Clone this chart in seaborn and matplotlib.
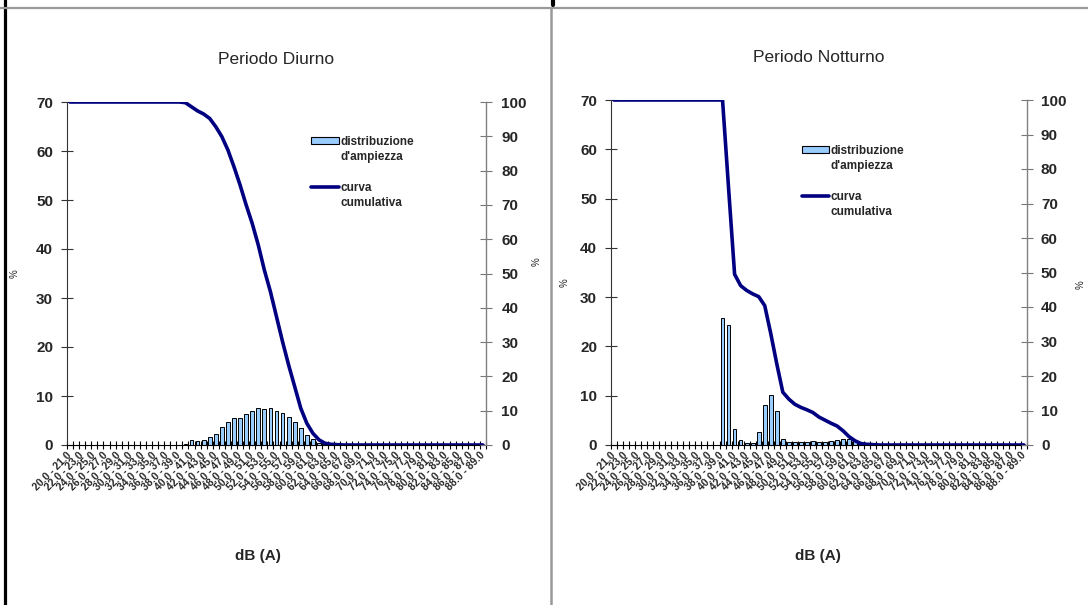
import numpy as np
import pandas as pd
import matplotlib
matplotlib.use("Agg")
import matplotlib.pyplot as plt
import seaborn as sns
from matplotlib.patches import Patch
from matplotlib.lines import Line2D

# 1 dB(A) classes, 20.0 - 21.0 up to 88.0 - 89.0
class_lower = np.arange(20, 89)
classes = [f"{a:.1f} - {a + 1:.1f}" for a in class_lower]

# Day period: amplitude distribution (%) and cumulative curve (%)
diurno_distr = [
    0, 0, 0, 0, 0, 0, 0, 0, 0, 0, 0, 0, 0, 0, 0, 0, 0, 0, 0,
    0.25, 1.0, 0.8, 1.0, 1.55, 2.3, 3.6, 4.65, 5.5, 5.5, 6.35, 7.0,
    7.55, 7.35, 7.55, 7.0, 6.55, 5.7, 4.7, 3.45, 2.0, 1.2, 0.4, 0.15,
    0, 0, 0, 0, 0, 0, 0, 0, 0, 0, 0, 0, 0, 0, 0, 0, 0, 0, 0, 0, 0, 0, 0, 0, 0, 0,
]
diurno_cum = [
    100, 100, 100, 100, 100, 100, 100, 100, 100, 100, 100, 100, 100, 100, 100, 100, 100, 100, 100,
    99.8, 98.6, 97.4, 96.5, 95.2, 92.8, 89.9, 86.0, 81.1, 75.8, 70.0, 64.6, 58.3,
    51.0, 44.7, 37.4, 30.1, 23.3, 17.0, 10.7, 6.3, 3.4, 1.5, 0.5, 0.2, 0.1,
    0, 0, 0, 0, 0, 0, 0, 0, 0, 0, 0, 0, 0, 0, 0, 0, 0, 0, 0, 0, 0, 0, 0, 0,
]

# Night period
notturno_distr = [
    0, 0, 0, 0, 0, 0, 0, 0, 0, 0, 0, 0, 0, 0, 0, 0, 0, 0,
    25.7, 24.4, 3.2, 0.95, 0.5, 0.5, 2.7, 8.1, 10.2, 6.9, 1.15, 0.7, 0.7,
    0.7, 0.7, 0.9, 0.7, 0.7, 0.75, 0.95, 1.15, 1.15, 0.8, 0.35, 0.1,
    0, 0, 0, 0, 0, 0, 0, 0, 0, 0, 0, 0, 0, 0, 0, 0, 0, 0, 0, 0, 0, 0, 0, 0, 0, 0,
]
notturno_cum = [
    100, 100, 100, 100, 100, 100, 100, 100, 100, 100, 100, 100, 100, 100, 100, 100, 100, 100, 100,
    74.5, 49.5, 46.2, 44.8, 43.8, 43.0, 40.4, 32.3, 23.5, 15.3, 13.3, 11.8, 10.9,
    10.2, 9.4, 8.1, 7.2, 6.3, 5.5, 4.1, 2.4, 1.2, 0.4, 0.2, 0.1,
    0, 0, 0, 0, 0, 0, 0, 0, 0, 0, 0, 0, 0, 0, 0, 0, 0, 0, 0, 0, 0, 0, 0, 0, 0,
]

titles = ["Periodo Diurno", "Periodo Notturno"]
legend_lines = ["distribuzione", "d'ampiezza", "", "curva", "cumulativa"]
left_ticks = list(range(0, 71, 10))
right_ticks = list(range(0, 101, 10))

BAR = "#99CCFF"
NAVY = "#000080"
FRAME_GRAY = "#999999"

sns.set_style("ticks")
plt.rcParams["font.family"] = ["Liberation Sans", "DejaVu Sans"]

W, H = 1088, 605
fig = plt.figure(figsize=(W / 100, H / 100), dpi=100)


def px_rect(x0, y0, x1, y1):
    return [x0 / W, 1 - y1 / H, (x1 - x0) / W, (y1 - y0) / H]


panels = [
    dict(title=titles[0], distr=diurno_distr, cum=diurno_cum,
         rect=px_rect(67, 102, 486, 445), legend_at=(0.572, 0.915),
         xlabel_x=258, ylab_left=(-0.112, 0.50), ylab_right=(1.108, 0.535),
         rpad=7),
    dict(title=titles[1], distr=notturno_distr, cum=notturno_cum,
         rect=px_rect(611, 100, 1027, 445), legend_at=(0.447, 0.883),
         xlabel_x=818, ylab_left=(-0.100, 0.47), ylab_right=(1.118, 0.465),
         rpad=6),
]

n = len(classes)
for p in panels:
    ax = fig.add_axes(p["rect"])
    df = pd.DataFrame({"classe": classes, "pct": p["distr"]})
    sns.barplot(data=df, x="classe", y="pct", order=classes, color=BAR,
                saturation=1, width=0.62, edgecolor="black", linewidth=0.7,
                ax=ax)
    ax2 = ax.twinx()
    sns.lineplot(x=np.arange(n), y=p["cum"], ax=ax2, color=NAVY,
                 linewidth=2.6, solid_joinstyle="round")

    ax.set_xlim(-0.5, n - 0.5)
    ax.set_ylim(0, 70)
    ax2.set_ylim(0, 100)
    ax.set_yticks(left_ticks)
    ax2.set_yticks(right_ticks)

    ax.set_xticks(np.arange(0, n, 2))
    ax.set_xticklabels(classes[::2], rotation=45, ha="right", va="center",
                       rotation_mode="anchor", fontsize=7.5, fontweight="bold")
    ax.set_xticks(np.arange(n + 1) - 0.5, minor=True)
    ax.tick_params(axis="x", which="major", length=0, pad=6)
    ax.tick_params(axis="x", which="minor", length=6, width=0.8,
                   direction="inout", color="black")
    ax.tick_params(axis="y", length=8, width=0.8, direction="inout",
                   color="#333333", labelsize=11, pad=6)
    ax2.tick_params(axis="y", length=8, width=0.8, direction="inout",
                    color="#777777", labelsize=11, pad=p["rpad"])
    for lab in ax.get_yticklabels() + ax2.get_yticklabels():
        lab.set_fontweight("bold")

    ax.set_xlabel("")
    ax.set_ylabel("%", fontsize=7)
    ax.yaxis.set_label_coords(*p["ylab_left"])
    ax2.set_ylabel("%", fontsize=7)
    ax2.yaxis.set_label_coords(*p["ylab_right"])

    for side in ["top", "right"]:
        ax.spines[side].set_visible(False)
    ax.spines["left"].set_color("#333333")
    ax.spines["bottom"].set_color("black")
    for side in ["top", "left", "bottom"]:
        ax2.spines[side].set_visible(False)
    ax2.spines["right"].set_color("#808080")
    ax2.spines["right"].set_linewidth(1.0)

    ax.text(0.5, 1.123, p["title"], transform=ax.transAxes, ha="center",
            va="center", fontsize=12.5)
    fig.text(p["xlabel_x"] / W, 1 - 556 / H, "dB (A)", ha="center",
             va="center", fontsize=11, fontweight="bold")

    blank = Patch(facecolor="none", edgecolor="none")
    handles = [Patch(facecolor=BAR, edgecolor="black", linewidth=0.8),
               blank, blank,
               Line2D([0], [0], color=NAVY, linewidth=2.6),
               blank]
    ax2.legend(handles, legend_lines, loc="upper left",
               bbox_to_anchor=p["legend_at"], frameon=False,
               prop=dict(weight="bold", size=8.5), handlelength=2.3,
               handleheight=0.55, handletextpad=0.15, labelspacing=0.28,
               borderaxespad=0)

# page frame lines around the two panels
fig.add_artist(Line2D([5 / W, 5 / W], [0, 1], color="black", linewidth=2.3))
fig.add_artist(Line2D([0, 1], [1 - 7.5 / H, 1 - 7.5 / H], color=FRAME_GRAY,
                      linewidth=1.6))
fig.add_artist(Line2D([550.5 / W, 550.5 / W], [0, 1 - 7.5 / H],
                      color=FRAME_GRAY, linewidth=1.8))
fig.add_artist(Line2D([553 / W, 553 / W], [1, 1 - 5 / H], color="black",
                      linewidth=3))

fig.savefig("out.png", dpi=100)
